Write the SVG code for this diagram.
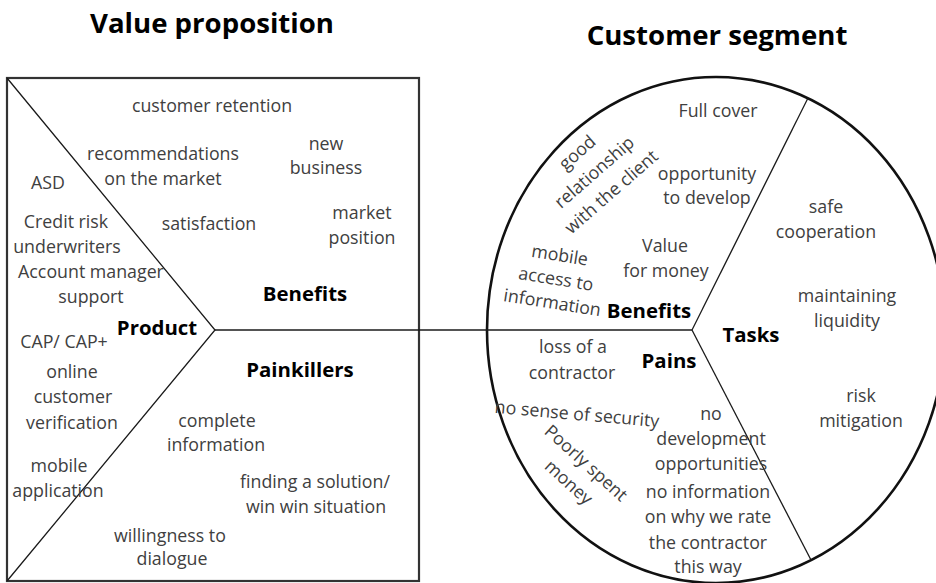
<svg xmlns="http://www.w3.org/2000/svg" width="936" height="583" viewBox="0 0 936 583">
<style>
text{font-family:"Open Sans","Noto Sans","Liberation Sans",sans-serif;text-anchor:middle}
.t{font-size:17.8px;fill:#404040}
.b{font-size:20.4px;font-weight:bold;fill:#000}
.h{font-size:27.6px;font-weight:bold;fill:#000}
.ln{stroke:#1a1a1a;stroke-width:1.3;fill:none}
</style>
<rect width="936" height="583" fill="#fff"/>
<g id="titles">
<text class="h" x="212" y="33">Value proposition</text>
<text class="h" x="717" y="45">Customer segment</text>
</g>
<g id="value-proposition">
<rect x="7" y="78" width="412" height="503" fill="none" stroke="#333" stroke-width="2.2"/>
</g>
<g id="customer-segment">
<ellipse cx="716" cy="330" rx="229" ry="253" fill="none" stroke="#111" stroke-width="2.6"/>
</g>
<g id="connectors">
<polyline class="ln" points="7,78 215,330 7,581"/>
<line class="ln" x1="215" y1="330" x2="692" y2="330"/>
<line class="ln" x1="692" y1="330" x2="808" y2="98"/>
<line class="ln" x1="692" y1="330" x2="811" y2="560"/>
</g>
<g id="vp-benefits">
<text class="b" x="305" y="301">Benefits</text>
<text class="t" x="212" y="112">customer retention</text>
<text class="t" x="163" y="160">recommendations</text>
<text class="t" x="163" y="185">on the market</text>
<text class="t" x="326" y="150">new</text>
<text class="t" x="326" y="174">business</text>
<text class="t" x="209" y="230">satisfaction</text>
<text class="t" x="362" y="219">market</text>
<text class="t" x="362" y="244">position</text>
</g>
<g id="vp-product">
<text class="b" x="157" y="335">Product</text>
<text class="t" x="48" y="189">ASD</text>
<text class="t" x="66" y="228">Credit risk</text>
<text class="t" x="67" y="253">underwriters</text>
<text class="t" x="91" y="278">Account manager</text>
<text class="t" x="91" y="303">support</text>
<text class="t" x="64" y="348">CAP/ CAP+</text>
<text class="t" x="72" y="378">online</text>
<text class="t" x="73" y="403">customer</text>
<text class="t" x="72" y="429">verification</text>
<text class="t" x="59" y="472">mobile</text>
<text class="t" x="58" y="497">application</text>
</g>
<g id="vp-painkillers">
<text class="b" x="300" y="377">Painkillers</text>
<text class="t" x="217" y="427">complete</text>
<text class="t" x="216" y="451">information</text>
<text class="t" x="315" y="488">finding a solution/</text>
<text class="t" x="316" y="513">win win situation</text>
<text class="t" x="170" y="542">willingness to</text>
<text class="t" x="172" y="565">dialogue</text>
</g>
<g id="cs-benefits">
<text class="b" x="649" y="318">Benefits</text>
<text class="t" x="718" y="117">Full cover</text>
<text class="t" transform="translate(595,173) rotate(-41)"><tspan x="0" y="-21">good</tspan><tspan x="0" y="5">relationship</tspan><tspan x="0" y="31">with the client</tspan></text>
<text class="t" x="707" y="180">opportunity</text>
<text class="t" x="707" y="204">to develop</text>
<text class="t" transform="translate(556,279) rotate(9)"><tspan x="0" y="-18">mobile</tspan><tspan x="0" y="6">access to</tspan><tspan x="0" y="30">information</tspan></text>
<text class="t" x="665" y="252">Value</text>
<text class="t" x="666" y="277">for money</text>
</g>
<g id="cs-tasks">
<text class="b" x="751" y="342">Tasks</text>
<text class="t" x="826" y="213">safe</text>
<text class="t" x="826" y="238">cooperation</text>
<text class="t" x="847" y="302">maintaining</text>
<text class="t" x="847" y="327">liquidity</text>
<text class="t" x="861" y="402">risk</text>
<text class="t" x="861" y="427">mitigation</text>
</g>
<g id="cs-pains">
<text class="b" x="669" y="368">Pains</text>
<text class="t" x="573" y="353">loss of a</text>
<text class="t" x="572" y="379">contractor</text>
<text class="t" transform="translate(577,414) rotate(5)" x="0" y="6">no sense of security</text>
<text class="t" transform="translate(586,463) rotate(42)"><tspan x="0" y="6">Poorly spent</tspan><tspan x="0" y="32">money</tspan></text>
<text class="t" x="711" y="420">no</text>
<text class="t" x="711" y="445">development</text>
<text class="t" x="711" y="470">opportunities</text>
<text class="t" x="708" y="498">no information</text>
<text class="t" x="708" y="523">on why we rate</text>
<text class="t" x="708" y="549">the contractor</text>
<text class="t" x="708" y="573">this way</text>
</g>
</svg>
